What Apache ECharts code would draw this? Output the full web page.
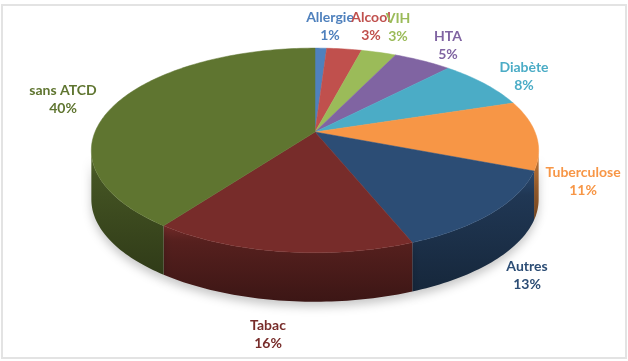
<!DOCTYPE html>
<html>
<head>
<meta charset="utf-8">
<script src="https://cdn.jsdelivr.net/npm/echarts@6/dist/echarts.min.js"></script>
<style>
  html, body { margin: 0; padding: 0; background: #fff; }
  #main { width: 628px; height: 361px; }
</style>
</head>
<body>
<div id="main"></div>
<script>
// antécédents - parts en %
const categories = ['Allergie', 'Alcool', 'VIH', 'HTA', 'Diabète', 'Tuberculose', 'Autres', 'Tabac', 'sans ATCD'];
const values = [1, 3, 3, 5, 8, 11, 13, 16, 40];
const colors = ['#4F81BD', '#C0504D', '#9BBB59', '#8064A2', '#4BACC6', '#F79646', '#2C4D75', '#772C2A', '#5F7530'];
// where each label box sits (centre)
const labelAt = [[330, 26], [371, 26], [398, 27], [448, 45], [524, 76], [583, 181], [527, 275], [268, 334], [63, 99]];

const total = values.reduce((a, b) => a + b, 0);
const starts = [];
let acc = 0;
values.forEach(v => { starts.push(acc); acc += v; });

// top face seen in perspective: near side bigger than far side
const geo = { cx: 315, cy: 132, rx: 220, ry: 99, k: 0.18, depth: 49 };

function pt(theta, dy) {
  const w = 1 + geo.k * Math.cos(theta);
  return [geo.cx + geo.rx * Math.sin(theta) / w, geo.cy - geo.ry * Math.cos(theta) / w + (dy || 0)];
}
function arc(a0, a1, dy) {
  const n = Math.max(2, Math.ceil((a1 - a0) / 0.02));
  const pts = [];
  for (let k = 0; k <= n; k++) pts.push(pt(a0 + (a1 - a0) * k / n, dy));
  return pts;
}
function shade(hex, f) {
  const c = echarts.color.parse(hex);
  return 'rgb(' + [0, 1, 2].map(i => Math.round(c[i] * f)).join(',') + ')';
}
function range(i) {
  return [starts[i] / total * Math.PI * 2, (starts[i] + values[i]) / total * Math.PI * 2];
}

const chart = echarts.init(document.getElementById('main'));

// silhouette of the cylinder
const sideFrom = Math.acos(-geo.k);
const sideTo = Math.PI * 2 - sideFrom;

const option = {
  backgroundColor: '#fff',
  animation: false,
  graphic: [{
    type: 'rect',
    shape: { x: 2, y: 5, width: 624, height: 353 },
    style: { fill: 'none', stroke: '#e3e3e3', lineWidth: 2 },
    silent: true
  }],
  series: [
    {
      // side walls (front half only)
      type: 'custom',
      coordinateSystem: 'none',
      z: 1,
      data: values,
      renderItem: function (params, api) {
        const i = params.dataIndex;
        const [a0, a1] = range(i);
        const s = Math.max(a0, sideFrom);
        const e = Math.min(a1, sideTo);
        if (e <= s) return;
        const top = arc(s, e, 0);
        const bot = arc(s, e, geo.depth).reverse();
        return {
          type: 'group',
          children: [
            {
              type: 'polygon',
              shape: { points: top.concat(bot) },
              style: {
                fill: new echarts.graphic.LinearGradient(0, 0, 0, 1, [
                  { offset: 0, color: shade(colors[i], 0.95) },
                  { offset: 0.2, color: shade(colors[i], 0.72) },
                  { offset: 1, color: shade(colors[i], 0.5) }
                ]),
                shadowBlur: 10,
                shadowOffsetY: 5,
                shadowColor: 'rgba(0,0,0,0.22)'
              }
            },
            {
              type: 'polyline',
              shape: { points: arc(s, e, -3) },
              style: { stroke: 'rgba(255,255,255,0.18)', lineWidth: 2, fill: null }
            }
          ]
        };
      }
    },
    {
      // top face
      type: 'custom',
      coordinateSystem: 'none',
      z: 2,
      data: values,
      renderItem: function (params, api) {
        const i = params.dataIndex;
        const [a0, a1] = range(i);
        const pts = [[geo.cx, geo.cy]].concat(arc(a0, a1, 0));
        const pos = labelAt[i];
        return {
          type: 'group',
          children: [
            {
              type: 'polygon',
              shape: { points: pts },
              style: { fill: colors[i], stroke: colors[i], lineWidth: 0.5 }
            },
            {
              type: 'text',
              x: pos[0],
              y: pos[1],
              z2: 10,
              style: {
                text: categories[i] + '\n' + Math.round(values[i] / total * 100) + '%',
                fill: colors[i],
                font: 'bold 14px Lato',
                lineHeight: 18,
                align: 'center',
                verticalAlign: 'middle'
              }
            }
          ]
        };
      }
    }
  ]
};

chart.setOption(option);
</script>
</body>
</html>
